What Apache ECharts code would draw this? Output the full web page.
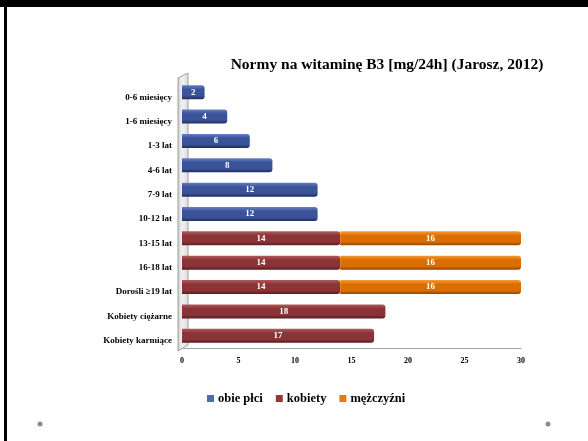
<!DOCTYPE html>
<html>
<head>
<meta charset="utf-8">
<script src="https://cdn.jsdelivr.net/npm/echarts@6/dist/echarts.min.js"></script>
<style>
  html, body { margin: 0; padding: 0; background: #fff; }
  #chart { width: 588px; height: 441px; }
</style>
</head>
<body>
<div id="chart"></div>
<script>
// Age groups, top to bottom
const categories = [
  '0-6 miesięcy', '1-6 miesięcy', '1-3 lat', '4-6 lat', '7-9 lat', '10-12 lat',
  '13-15 lat', '16-18 lat', 'Dorośli ≥19 lat', 'Kobiety ciężarne', 'Kobiety karmiące'
];
// Niacin norms [mg/24h]
const obiePlci   = [2, 4, 6, 8, 12, 12, null, null, null, null, null];
const kobiety    = [null, null, null, null, null, null, 14, 14, 14, 18, 17];
const mezczyzni  = [null, null, null, null, null, null, 16, 16, 16, null, null];
const xTicks = { min: 0, max: 30, interval: 5 };

const FONT = '"Liberation Serif", "DejaVu Serif", serif';
const G = { left: 182, right: 67, top: 80, bottom: 93 };

function cyl(light, mid, dark) {
  return new echarts.graphic.LinearGradient(0, 0, 0, 1, [
    { offset: 0, color: light },
    { offset: 0.3, color: mid },
    { offset: 0.75, color: mid },
    { offset: 1, color: dark }
  ]);
}

const barCommon = {
  type: 'bar',
  stack: 'total',
  barWidth: 14,
  label: {
    show: true,
    position: 'inside',
    color: '#fff',
    fontFamily: FONT,
    fontWeight: 'bold',
    fontSize: 9
  }
};

const chart = echarts.init(document.getElementById('chart'), null, { renderer: 'canvas' });
chart.setOption({
  backgroundColor: '#fff',
  animation: false,
  title: {
    text: 'Normy na witaminę B3 [mg/24h] (Jarosz, 2012)',
    left: 382,
    top: 52,
    textAlign: 'center',
    textStyle: { fontFamily: FONT, fontWeight: 'bold', fontSize: 15.5, color: '#000' }
  },
  legend: {
    bottom: 31,
    left: 202,
    itemWidth: 7,
    itemHeight: 7,
    itemGap: 13,
    icon: 'rect',
    textStyle: { fontFamily: FONT, fontWeight: 'bold', fontSize: 12.5, color: '#000', padding: [0, 0, 0, -1] },
    data: [
      { name: 'obie płci', itemStyle: { color: '#4E6AB5' } },
      { name: 'kobiety', itemStyle: { color: '#953735' } },
      { name: 'mężczyźni', itemStyle: { color: '#E67A0C' } }
    ]
  },
  grid: G,
  xAxis: {
    type: 'value',
    min: xTicks.min,
    max: xTicks.max,
    interval: xTicks.interval,
    axisLine: { show: true, lineStyle: { color: '#a6a6a6', width: 1 } },
    axisTick: { show: false },
    splitLine: { show: false },
    axisLabel: { fontFamily: FONT, fontWeight: 'bold', fontSize: 8, color: '#000', margin: 9 }
  },
  yAxis: {
    type: 'category',
    inverse: true,
    data: categories,
    axisLine: { show: false },
    axisTick: { show: false },
    axisLabel: {
      margin: 10,
      formatter: function (v) { return '{c|' + v + '}'; },
      rich: {
        c: { fontFamily: FONT, fontWeight: 'bold', fontSize: 9, color: '#000', padding: [10, 0, 0, 0] }
      }
    }
  },
  graphic: [
    // frame edges
    { type: 'rect', shape: { x: 0, y: 0, width: 588, height: 7 }, style: { fill: '#000' }, silent: true },
    { type: 'rect', shape: { x: 4, y: 0, width: 3, height: 441 }, style: { fill: '#000' }, silent: true },
    // corner dots
    { type: 'circle', shape: { cx: 40, cy: 424, r: 2.5 }, style: { fill: '#8c8c8c' }, silent: true },
    { type: 'circle', shape: { cx: 548, cy: 424, r: 2.5 }, style: { fill: '#8c8c8c' }, silent: true },
    // back wall of the plot
    {
      type: 'polygon', z: 0, silent: true,
      shape: { points: [[G.left - 4, G.top - 2], [G.left + 6, G.top - 7], [G.left + 6, 441 - G.bottom - 3], [G.left - 4, 441 - G.bottom + 3]] },
      style: {
        fill: new echarts.graphic.LinearGradient(0, 0, 1, 0, [
          { offset: 0, color: '#c8c8c8' }, { offset: 0.4, color: '#f2f2f2' }, { offset: 1, color: '#dcdcdc' }
        ]),
        stroke: '#a0a0a0', lineWidth: 1
      }
    }
  ],
  series: [
    Object.assign({}, barCommon, {
      name: 'obie płci',
      data: obiePlci,
      itemStyle: { color: cyl('#6580c4', '#3a5298', '#1d2d62'), borderRadius: [0, 3, 3, 0] }
    }),
    Object.assign({}, barCommon, {
      name: 'kobiety',
      data: kobiety,
      itemStyle: { color: cyl('#b05a5e', '#8a3438', '#561c1f'), borderRadius: [0, 3, 3, 0] }
    }),
    Object.assign({}, barCommon, {
      name: 'mężczyźni',
      data: mezczyzni,
      itemStyle: { color: cyl('#f59a3a', '#dc6e00', '#8e4500'), borderRadius: [0, 3, 3, 0] }
    })
  ]
});
</script>
</body>
</html>
